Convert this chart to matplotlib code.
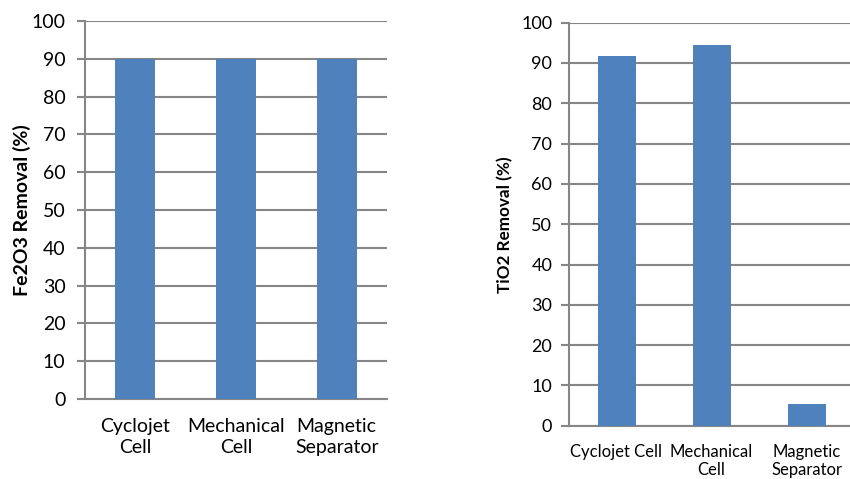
import matplotlib
matplotlib.use("Agg")
import matplotlib.pyplot as plt

categories_left = ["Cyclojet\nCell", "Mechanical\nCell", "Magnetic\nSeparator"]
fe2o3_removal = [90, 90, 90]
categories_right = ["Cyclojet Cell", "Mechanical\nCell", "Magnetic\nSeparator"]
tio2_removal = [91.7, 94.5, 5.5]
yticks = list(range(0, 101, 10))

plt.rcParams['font.family'] = ['Lato', 'DejaVu Sans']
bar_color = "#4F81BD"
grid_color = "#868686"

fig = plt.figure(figsize=(8.5, 4.79), dpi=100)
ax1 = fig.add_axes([85/850, 1-399/479, 302/850, 378/479])
ax2 = fig.add_axes([569/850, 1-425.7/479, 285/850, 403/479])

def style(ax, cats, vals, ylabel, tick_fs, xt_fs, lab_fs, xlab_pad, ls, ypad):
    x = list(range(len(cats)))
    ax.bar(x, vals, width=0.4, color=bar_color, zorder=3)
    ax.set_xlim(-0.5, len(cats)-0.5)
    ax.set_ylim(0, 100)
    ax.set_yticks(yticks)
    ax.set_yticklabels([str(t) for t in yticks], fontsize=tick_fs)
    ax.set_xticks(x)
    ax.set_xticklabels(cats, fontsize=xt_fs, linespacing=ls)
    ax.tick_params(axis='x', length=0, pad=xlab_pad)
    ax.tick_params(axis='y', length=6, width=1.5, color=grid_color, pad=ypad)
    ax.yaxis.grid(True, color=grid_color, linewidth=1.5, zorder=0)
    for s in ['top', 'right']:
        ax.spines[s].set_visible(False)
    for s in ['left', 'bottom']:
        ax.spines[s].set_color(grid_color)
        ax.spines[s].set_linewidth(1.5)
    ax.set_ylabel(ylabel, fontsize=lab_fs, fontweight='bold')

style(ax1, categories_left, fe2o3_removal, "Fe2O3 Removal (%)", 14, 14, 14, 14, 1.25, 8)
ax1.yaxis.set_label_coords(-0.18, 0.5)
style(ax2, categories_right, tio2_removal, "TiO2 Removal (%)", 13, 12, 12.3, 13, 1.2, 6)
ax2.yaxis.set_label_coords(-0.197, 0.5)

fig.savefig("out.png", dpi=100)
